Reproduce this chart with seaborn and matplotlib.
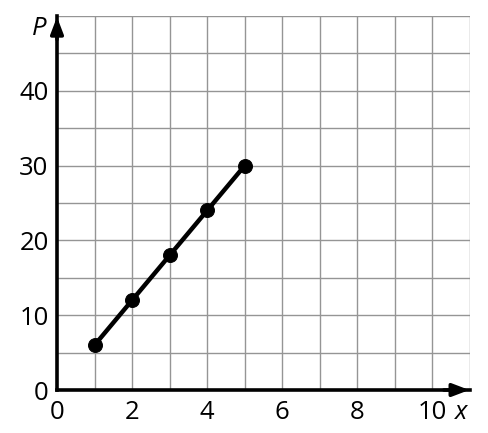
import numpy as np
import pandas as pd
import matplotlib.pyplot as plt
import seaborn as sns

# data
x_vals = [1, 2, 3, 4, 5]
p_vals = [6, 12, 18, 24, 30]
x_ticks = [0, 2, 4, 6, 8, 10]
y_ticks = [0, 10, 20, 30, 40]

df = pd.DataFrame({'x': x_vals, 'P': p_vals})

sns.set_style('white')
plt.rcParams['font.family'] = ['Open Sans', 'DejaVu Sans']

fig = plt.figure(figsize=(4.88, 4.33), dpi=100)
ax = fig.add_axes([57 / 488, 43 / 433, 413 / 488, 374 / 433])

ax.set_xlim(0, 11)
ax.set_ylim(0, 50)

# grid: every 1 on x, every 5 on y
for gx in np.arange(1, 12):
    ax.axvline(gx, color='#959595', lw=1.0, zorder=0)
for gy in np.arange(5, 51, 5):
    ax.axhline(gy, color='#959595', lw=1.0, zorder=0)

sns.lineplot(data=df, x='x', y='P', ax=ax, color='black', lw=3.2,
             marker='o', markersize=10, markeredgecolor='black', zorder=3)

for s in ['top', 'right']:
    ax.spines[s].set_visible(False)
for s in ['left', 'bottom']:
    ax.spines[s].set_linewidth(2.6)
    ax.spines[s].set_color('black')

# arrowheads
ax.annotate('', xy=(1.005, 0), xytext=(0.93, 0), xycoords='axes fraction',
            arrowprops=dict(arrowstyle='-|>,head_length=1.0,head_width=0.38',
                            color='black', lw=2.6), annotation_clip=False)
ax.annotate('', xy=(0, 1.005), xytext=(0, 0.93), xycoords='axes fraction',
            arrowprops=dict(arrowstyle='-|>,head_length=1.0,head_width=0.38',
                            color='black', lw=2.6), annotation_clip=False)

ax.set_xticks(x_ticks)
ax.set_yticks(y_ticks)
ax.tick_params(axis='both', length=0, labelsize=18.5, labelcolor='black')
ax.tick_params(axis='x', pad=7)
ax.tick_params(axis='y', pad=6)
ax.set_xlabel('')
ax.set_ylabel('')

ax.text(-0.042, 0.967, 'P', transform=ax.transAxes, fontsize=18.5, style='italic',
        ha='center', va='center', color='black')
ax.text(0.978, -0.06, 'x', transform=ax.transAxes, fontsize=18.5, style='italic',
        ha='center', va='center', color='black')

fig.savefig('out.png', dpi=100)
